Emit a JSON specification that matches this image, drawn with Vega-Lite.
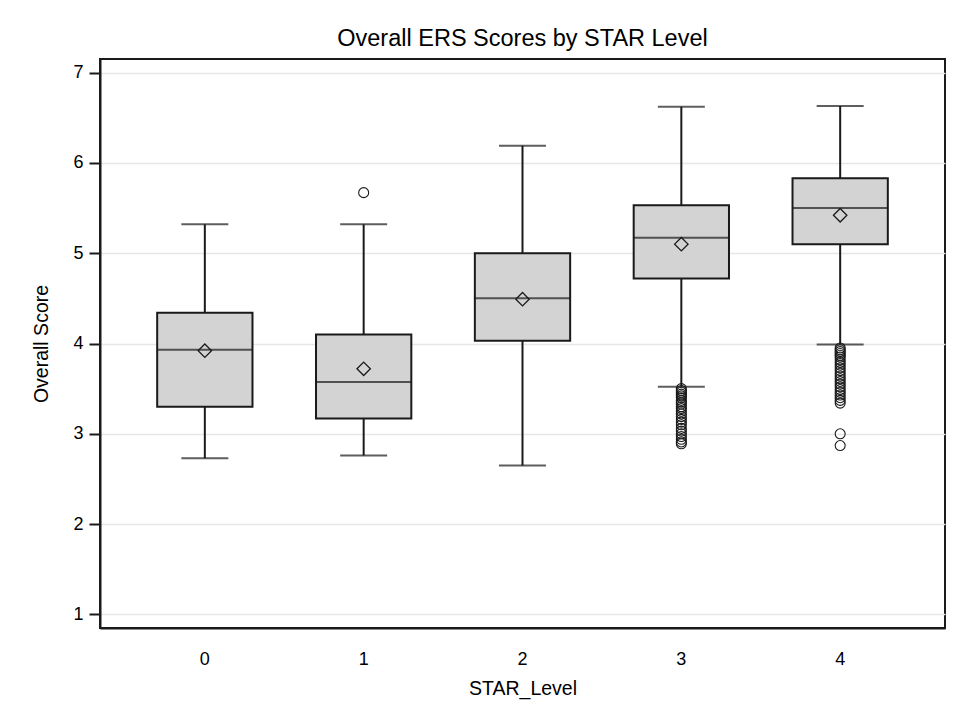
{
  "$schema": "https://vega.github.io/schema/vega-lite/v6.json",
  "width": 845,
  "height": 569,
  "autosize": {"type": "none"},
  "padding": {"left": 100, "top": 59, "right": 8, "bottom": 91},
  "background": "white",
  "title": {
    "text": "Overall ERS Scores by STAR Level",
    "fontSize": 23.5,
    "fontWeight": "normal",
    "font": "Liberation Sans",
    "color": "#000000",
    "offset": 9
  },
  "config": {
    "font": "Liberation Sans",
    "view": {"stroke": "#1a1a1a", "strokeWidth": 2},
    "axis": {
      "labelFont": "Liberation Sans",
      "titleFont": "Liberation Sans",
      "titleFontWeight": "normal",
      "labelColor": "#000000",
      "titleColor": "#000000",
      "domainColor": "#1a1a1a",
      "domainWidth": 2,
      "tickColor": "#1a1a1a",
      "tickWidth": 2,
      "gridColor": "#e6e6e6",
      "gridWidth": 1.5
    }
  },
  "datasets": {
    "boxes": [
      {"STAR_Level": "0", "lower": 2.73, "q1": 3.30, "median": 3.93, "q3": 4.34, "upper": 5.32, "mean": 3.92},
      {"STAR_Level": "1", "lower": 2.76, "q1": 3.17, "median": 3.575, "q3": 4.10, "upper": 5.32, "mean": 3.72},
      {"STAR_Level": "2", "lower": 2.65, "q1": 4.03, "median": 4.50, "q3": 5.00, "upper": 6.19, "mean": 4.49},
      {"STAR_Level": "3", "lower": 3.52, "q1": 4.72, "median": 5.17, "q3": 5.53, "upper": 6.62, "mean": 5.10},
      {"STAR_Level": "4", "lower": 3.99, "q1": 5.10, "median": 5.50, "q3": 5.83, "upper": 6.63, "mean": 5.42}
    ],
    "outliers": [
      {"STAR_Level": "1", "score": 5.67},
      {"STAR_Level": "3", "score": 3.50},
      {"STAR_Level": "3", "score": 3.48},
      {"STAR_Level": "3", "score": 3.46},
      {"STAR_Level": "3", "score": 3.44},
      {"STAR_Level": "3", "score": 3.42},
      {"STAR_Level": "3", "score": 3.40},
      {"STAR_Level": "3", "score": 3.37},
      {"STAR_Level": "3", "score": 3.35},
      {"STAR_Level": "3", "score": 3.33},
      {"STAR_Level": "3", "score": 3.30},
      {"STAR_Level": "3", "score": 3.28},
      {"STAR_Level": "3", "score": 3.25},
      {"STAR_Level": "3", "score": 3.22},
      {"STAR_Level": "3", "score": 3.19},
      {"STAR_Level": "3", "score": 3.16},
      {"STAR_Level": "3", "score": 3.13},
      {"STAR_Level": "3", "score": 3.10},
      {"STAR_Level": "3", "score": 3.06},
      {"STAR_Level": "3", "score": 3.03},
      {"STAR_Level": "3", "score": 3.00},
      {"STAR_Level": "3", "score": 2.97},
      {"STAR_Level": "3", "score": 2.94},
      {"STAR_Level": "3", "score": 2.91},
      {"STAR_Level": "3", "score": 2.89},
      {"STAR_Level": "4", "score": 3.95},
      {"STAR_Level": "4", "score": 3.93},
      {"STAR_Level": "4", "score": 3.91},
      {"STAR_Level": "4", "score": 3.89},
      {"STAR_Level": "4", "score": 3.87},
      {"STAR_Level": "4", "score": 3.85},
      {"STAR_Level": "4", "score": 3.82},
      {"STAR_Level": "4", "score": 3.79},
      {"STAR_Level": "4", "score": 3.76},
      {"STAR_Level": "4", "score": 3.73},
      {"STAR_Level": "4", "score": 3.70},
      {"STAR_Level": "4", "score": 3.67},
      {"STAR_Level": "4", "score": 3.64},
      {"STAR_Level": "4", "score": 3.61},
      {"STAR_Level": "4", "score": 3.58},
      {"STAR_Level": "4", "score": 3.55},
      {"STAR_Level": "4", "score": 3.52},
      {"STAR_Level": "4", "score": 3.49},
      {"STAR_Level": "4", "score": 3.46},
      {"STAR_Level": "4", "score": 3.43},
      {"STAR_Level": "4", "score": 3.40},
      {"STAR_Level": "4", "score": 3.37},
      {"STAR_Level": "4", "score": 3.34},
      {"STAR_Level": "4", "score": 3.00},
      {"STAR_Level": "4", "score": 2.87}
    ]
  },
  "encoding": {
    "x": {
      "field": "STAR_Level",
      "type": "nominal",
      "sort": ["0", "1", "2", "3", "4"],
      "scale": {"paddingInner": 0.4, "paddingOuter": 0.36},
      "axis": {
        "title": "STAR_Level",
        "labelAngle": 0,
        "labelFontSize": 18,
        "titleFontSize": 19.5,
        "grid": false,
        "ticks": false,
        "labelPadding": 22,
        "titlePadding": 11
      }
    }
  },
  "layer": [
    {
      "data": {"name": "boxes"},
      "mark": {"type": "rule", "color": "#1a1a1a", "strokeWidth": 2},
      "encoding": {
        "y": {
          "field": "lower",
          "type": "quantitative",
          "scale": {"domain": [0.85, 7.15], "nice": false, "zero": false},
          "axis": {
            "title": "Overall Score",
            "values": [1, 2, 3, 4, 5, 6, 7],
            "format": "d",
            "labelFontSize": 18,
            "titleFontSize": 19.5,
            "tickSize": 11,
            "labelPadding": 6,
            "titlePadding": 21,
            "grid": true
          }
        },
        "y2": {"field": "upper"}
      }
    },
    {
      "data": {"name": "boxes"},
      "mark": {"type": "bar", "fill": "#d3d3d3", "stroke": "#1a1a1a", "strokeWidth": 2},
      "encoding": {
        "y": {"field": "q1", "type": "quantitative"},
        "y2": {"field": "q3"}
      }
    },
    {
      "data": {"name": "boxes"},
      "mark": {"type": "tick", "color": "#1a1a1a", "thickness": 2, "size": 95},
      "encoding": {"y": {"field": "median", "type": "quantitative"}}
    },
    {
      "data": {"name": "boxes"},
      "mark": {"type": "tick", "color": "#1a1a1a", "thickness": 2, "size": 47},
      "encoding": {"y": {"field": "lower", "type": "quantitative"}}
    },
    {
      "data": {"name": "boxes"},
      "mark": {"type": "tick", "color": "#1a1a1a", "thickness": 2, "size": 47},
      "encoding": {"y": {"field": "upper", "type": "quantitative"}}
    },
    {
      "data": {"name": "boxes"},
      "mark": {"type": "point", "shape": "diamond", "size": 180, "filled": false, "stroke": "#1a1a1a", "strokeWidth": 1.3, "opacity": 1},
      "encoding": {"y": {"field": "mean", "type": "quantitative"}}
    },
    {
      "data": {"name": "outliers"},
      "mark": {"type": "point", "shape": "circle", "size": 100, "filled": false, "stroke": "#1a1a1a", "strokeWidth": 1.1, "opacity": 1},
      "encoding": {"y": {"field": "score", "type": "quantitative"}}
    }
  ]
}
